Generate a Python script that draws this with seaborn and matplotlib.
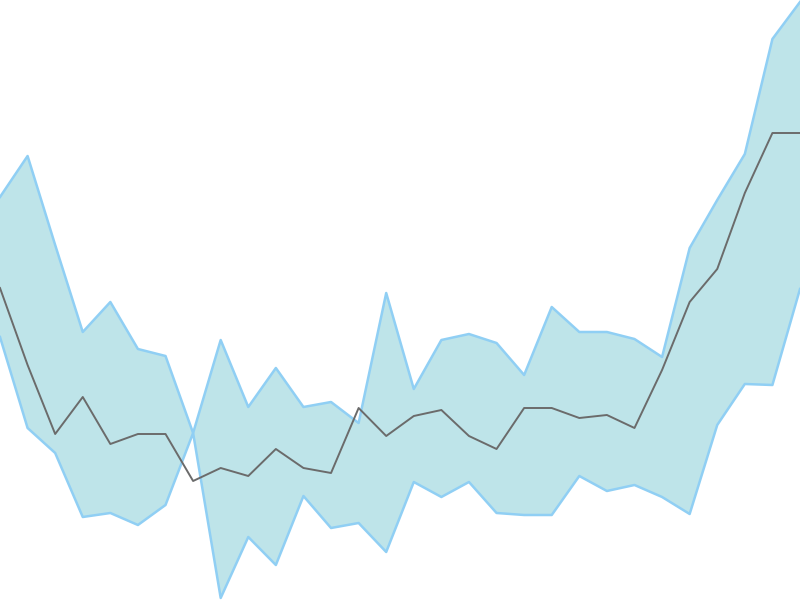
import numpy as np
import matplotlib.pyplot as plt
import pandas as pd
import seaborn as sns

# values (0 = bottom edge, 600 = top edge)
upper = [403, 444, 355, 268, 298, 251, 244, 167, 260, 193, 232, 193, 198, 177, 307, 211,
         260, 266, 257, 225, 293, 268, 268, 261, 243, 352, 400, 446, 561, 598]
middle = [312, 235, 166, 203, 156, 166, 166, 119, 132, 124, 151, 132, 127, 192, 164, 184,
          190, 164, 151, 192, 192, 182, 185, 172, 230, 298, 331, 407, 467, 467]
lower = [263, 172, 147, 83, 87, 75, 95, 167, 2, 63, 35, 104, 72, 77, 48, 118,
         103, 118, 87, 85, 85, 124, 109, 115, 103, 86, 175, 216, 215, 311]
step = np.arange(len(middle))

df = pd.DataFrame({'step': step, 'upper': upper, 'middle': middle, 'lower': lower})

fig = plt.figure(figsize=(8, 6), dpi=100)
ax = fig.add_axes([0, 0, 1, 1])

ax.fill_between(df['step'], df['lower'], df['upper'], color='#bee4e9', linewidth=0)
sns.lineplot(data=df, x='step', y='upper', ax=ax, color='#90cff4', linewidth=1.8)
sns.lineplot(data=df, x='step', y='lower', ax=ax, color='#90cff4', linewidth=1.8)
sns.lineplot(data=df, x='step', y='middle', ax=ax, color='#6b6b6b', linewidth=1.4)

ax.set_xlim(0, len(middle) - 1)
ax.set_ylim(0, 600)
ax.axis('off')

fig.savefig('out.png', dpi=100)
